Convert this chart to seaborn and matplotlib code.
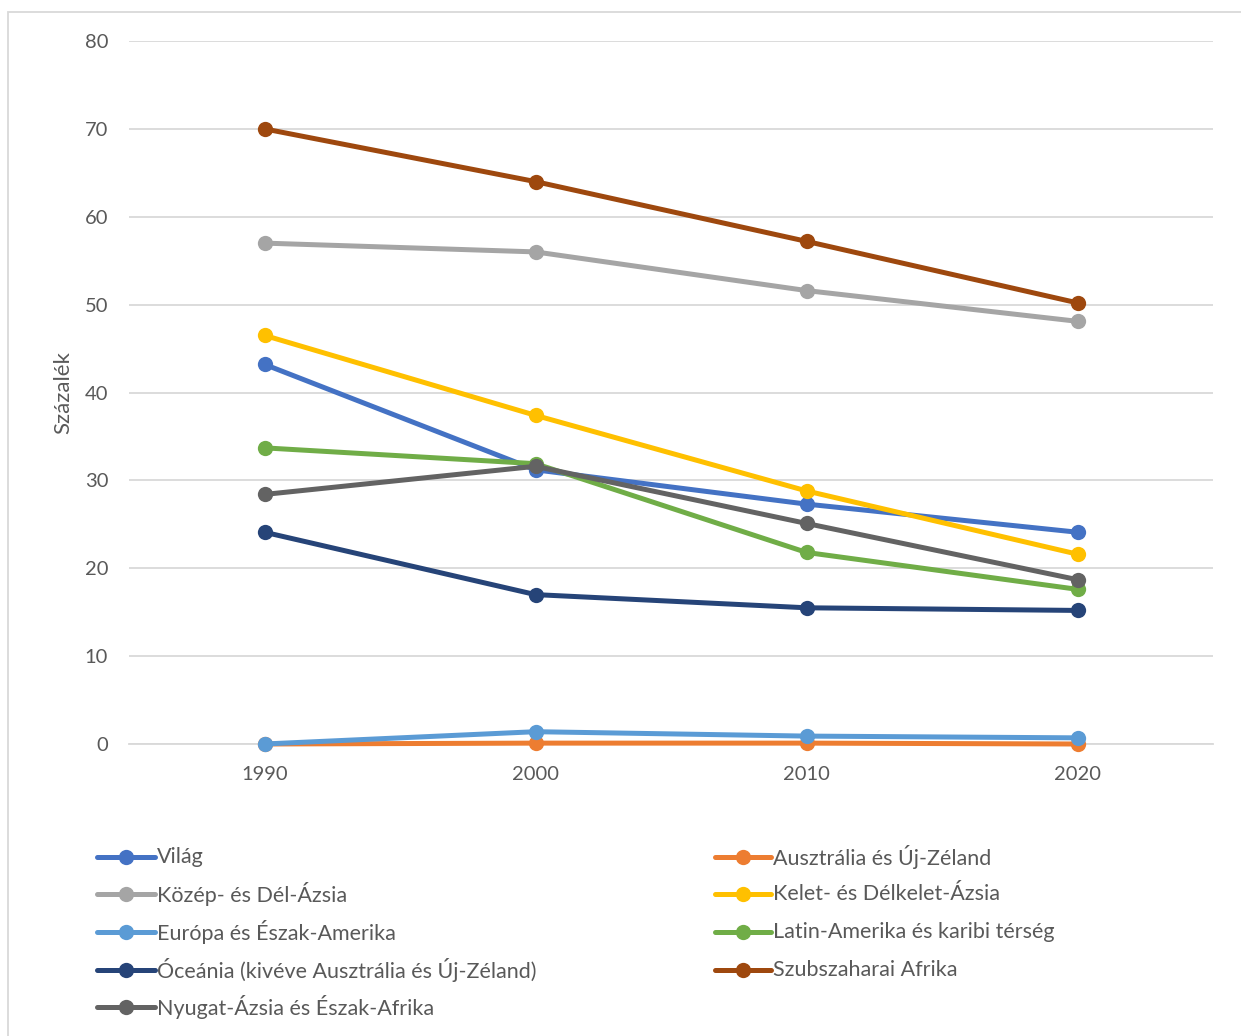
import matplotlib
matplotlib.use("Agg")
import matplotlib.pyplot as plt
from matplotlib.patches import Rectangle
from matplotlib.lines import Line2D
import seaborn as sns
import pandas as pd

years = [1990, 2000, 2010, 2020]
regions = [
    "Világ",
    "Ausztrália és Új-Zéland",
    "Közép- és Dél-Ázsia",
    "Kelet- és Délkelet-Ázsia",
    "Európa és Észak-Amerika",
    "Latin-Amerika és karibi térség",
    "Óceánia (kivéve Ausztrália és Új-Zéland)",
    "Szubszaharai Afrika",
    "Nyugat-Ázsia és Észak-Afrika",
]
vilag = [43.2, 31.2, 27.3, 24.1]
ausztralia = [0.0, 0.1, 0.1, 0.0]
kozep_del_azsia = [57.0, 56.0, 51.6, 48.1]
kelet_delkelet_azsia = [46.5, 37.4, 28.8, 21.6]
europa_eszak_amerika = [0.0, 1.4, 0.9, 0.7]
latin_amerika = [33.7, 31.9, 21.8, 17.6]
oceania = [24.1, 17.0, 15.5, 15.2]
szubszaharai = [70.0, 64.0, 57.2, 50.2]
nyugat_azsia = [28.4, 31.6, 25.1, 18.7]
series = [vilag, ausztralia, kozep_del_azsia, kelet_delkelet_azsia,
          europa_eszak_amerika, latin_amerika, oceania, szubszaharai, nyugat_azsia]

colors = ["#4472C4", "#ED7D31", "#A5A5A5", "#FFC000", "#5B9BD5",
          "#70AD47", "#264478", "#9E480E", "#636363"]

df = pd.DataFrame([
    {"region": r, "year": y, "value": v}
    for r, vals in zip(regions, series)
    for y, v in zip(years, vals)
])

sns.set_style("white")
plt.rcParams["font.family"] = ["Lato", "DejaVu Sans"]
txt = "#595959"
W, H = 1241, 1036

fig = plt.figure(figsize=(W / 100, H / 100), dpi=100)
ax = fig.add_axes([129 / W, 1 - 744 / H, (1213 - 129) / W, (744 - 41) / H])

sns.lineplot(data=df, x="year", y="value", hue="region", hue_order=regions,
             palette=colors, marker="o", markersize=11, markeredgewidth=0,
             linewidth=3.6, ax=ax, legend=False, estimator=None)
for k, ln in enumerate(ax.lines):
    ln.set_clip_on(False)
    ln.set_solid_capstyle("round")
    ln.set_zorder(3 + k * 0.01)

ax.set_xlim(1985, 2025)
ax.set_ylim(0, 80)
ax.set_yticks(range(0, 81, 10))
ax.set_xticks(years)
ax.set_xticks(range(1985, 2026, 10), minor=True)
ax.tick_params(axis="x", which="major", length=0, pad=16, labelsize=14.5, labelcolor=txt)
ax.tick_params(axis="x", which="minor", length=6, width=1.2, color="#D9D9D9", direction="out")
ax.tick_params(axis="y", length=0, pad=15, labelsize=14.5, labelcolor=txt)
ax.grid(axis="y", color="#D9D9D9", linewidth=1.3)
ax.set_axisbelow(True)
for s in ["top", "right", "left"]:
    ax.spines[s].set_visible(False)
ax.spines["bottom"].set_color("#D9D9D9")
ax.spines["bottom"].set_linewidth(1.3)
ax.set_xlabel("")
ax.set_ylabel("Százalék", fontsize=16, color=txt, labelpad=8)

# legend drawn as two aligned columns, like the original
left_col = [0, 2, 4, 6, 8]
right_col = [1, 3, 5, 7]
row_y = [857, 894, 932, 970, 1007]
for col, (x0, x1) in zip([left_col, right_col], [(97, 155), (715, 771)]):
    for i, y in zip(col, row_y):
        fy = 1 - y / H
        fig.add_artist(Line2D([x0 / W, x1 / W], [fy, fy], transform=fig.transFigure,
                              color=colors[i], linewidth=3.6, solid_capstyle="round"))
        fig.add_artist(Line2D([(x0 + x1) / 2 / W], [fy], transform=fig.transFigure,
                              color=colors[i], marker="o", markersize=11,
                              markeredgewidth=0, linestyle="none"))
        fig.text((x1 + 2) / W, fy, regions[i], fontsize=15.5, color=txt,
                 ha="left", va="center")

fig.patches.append(Rectangle((8 / W, -0.01), 1.0, 1 - 12 / H + 0.01,
                             transform=fig.transFigure, fill=False,
                             edgecolor="#D9D9D9", linewidth=1.3))

fig.savefig("out.png", dpi=100, facecolor="white")
